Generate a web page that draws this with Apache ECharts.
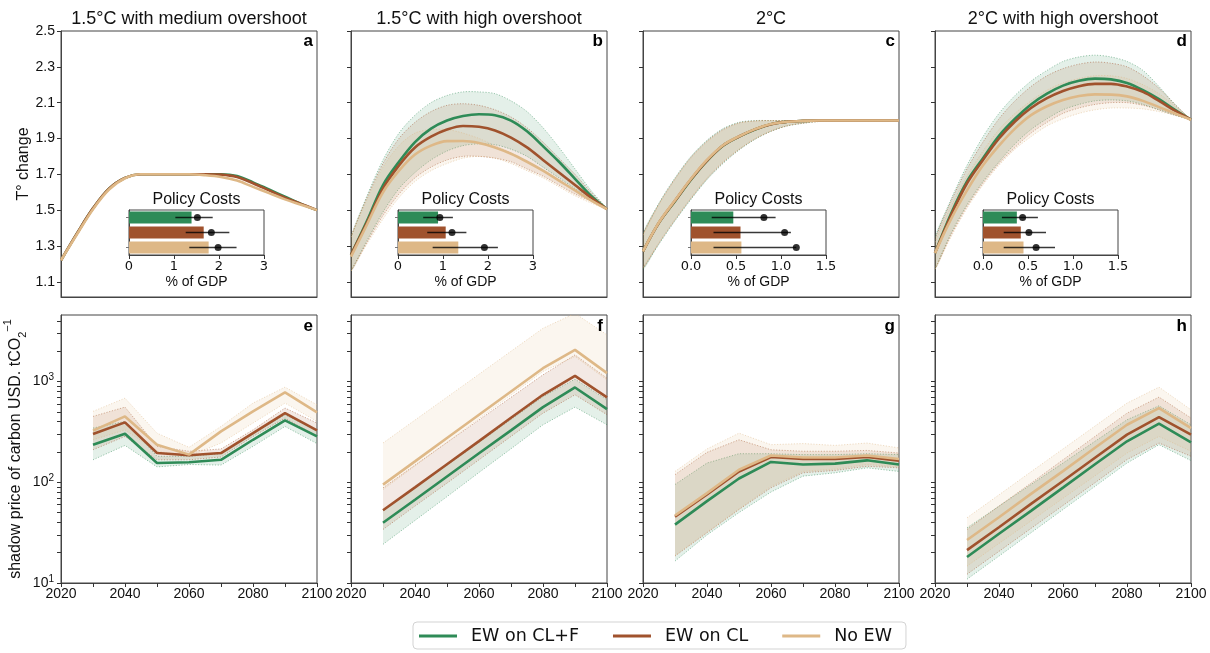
<!DOCTYPE html>
<html><head><meta charset="utf-8">
<script src="https://cdn.jsdelivr.net/npm/echarts@6/dist/echarts.min.js"></script>
<style>html,body{margin:0;padding:0;background:#fff}#c{width:1210px;height:653px}</style>
</head><body><div id="c"></div>
<script>
// ---------- DATA ----------
const YEARS_T = [2020,2025,2030,2035,2040,2045,2050,2055,2060,2065,2070,2075,2080,2085,2090,2095,2100];
const YEARS_B = [2030,2040,2050,2060,2070,2080,2090,2100];
const NAMES = ['EW on CL+F','EW on CL','No EW'];
const PANEL_TITLES = ['1.5°C with medium overshoot','1.5°C with high overshoot','2°C','2°C with high overshoot'];
const TOP_LETTERS = ['a','b','c','d'];
const BOT_LETTERS = ['e','f','g','h'];
const T_TICKS = [1.1,1.3,1.5,1.7,1.9,2.1,2.3,2.5];
const LOG_TICKS = [10,100,1000];
const LOG_MINOR = [20,30,40,50,60,70,80,90,200,300,400,500,600,700,800,900,2000,3000,4000];

// panel a (temperature)
const aG = [1.22,1.37,1.51,1.62,1.68,1.70,1.70,1.70,1.70,1.70,1.70,1.69,1.655,1.615,1.575,1.535,1.50];
const aB = [1.22,1.37,1.51,1.62,1.68,1.70,1.70,1.70,1.70,1.70,1.698,1.685,1.65,1.61,1.57,1.535,1.50];
const aT = [1.22,1.365,1.505,1.615,1.678,1.70,1.70,1.70,1.70,1.695,1.685,1.665,1.63,1.595,1.56,1.53,1.50];
// panel b
const bG = [1.25,1.44,1.64,1.77,1.88,1.955,2.0,2.025,2.035,2.03,2.0,1.94,1.857,1.77,1.675,1.58,1.505];
const bB = [1.25,1.43,1.62,1.75,1.85,1.91,1.95,1.97,1.965,1.945,1.905,1.85,1.78,1.71,1.64,1.57,1.505];
const bT = [1.24,1.42,1.60,1.72,1.81,1.86,1.885,1.886,1.875,1.85,1.815,1.77,1.72,1.665,1.61,1.555,1.505];
const bG_hi = [1.35,1.58,1.78,1.93,2.03,2.10,2.14,2.16,2.16,2.15,2.11,2.05,1.96,1.85,1.73,1.61,1.51];
const bG_lo = [1.16,1.33,1.49,1.62,1.71,1.78,1.83,1.86,1.87,1.865,1.84,1.80,1.74,1.68,1.62,1.56,1.505];
const bB_hi = [1.35,1.57,1.76,1.90,1.99,2.05,2.085,2.094,2.085,2.06,2.02,1.96,1.88,1.79,1.70,1.60,1.51];
const bB_lo = [1.16,1.32,1.47,1.59,1.68,1.74,1.78,1.80,1.80,1.79,1.77,1.73,1.69,1.64,1.59,1.55,1.505];
const bT_hi = [1.35,1.56,1.74,1.86,1.93,1.95,1.95,1.93,1.90,1.86,1.82,1.77,1.72,1.67,1.61,1.56,1.505];
const bT_lo = [1.16,1.31,1.45,1.57,1.66,1.72,1.76,1.79,1.80,1.79,1.76,1.72,1.68,1.63,1.58,1.54,1.505];
// panel c
const cG = [1.27,1.43,1.55,1.67,1.775,1.86,1.91,1.95,1.98,1.993,1.998,2.0,2.0,2.0,2.0,2.0,2.0];
const cB = [1.27,1.43,1.552,1.672,1.777,1.861,1.911,1.951,1.98,1.993,1.998,2.0,2.0,2.0,2.0,2.0,2.0];
const cT = [1.27,1.432,1.555,1.675,1.78,1.862,1.912,1.952,1.981,1.993,1.998,2.0,2.0,2.0,2.0,2.0,2.0];
const cG_hi = [1.37,1.54,1.68,1.80,1.89,1.955,1.99,2.0,2.0,2.0,2.0,2.0,2.0,2.0,2.0,2.0,2.0];
const cG_lo = [1.17,1.31,1.44,1.56,1.67,1.76,1.835,1.895,1.94,1.97,1.985,1.995,2.0,2.0,2.0,2.0,2.0];
const cB_hi = [1.365,1.535,1.675,1.795,1.885,1.95,1.987,1.998,2.0,2.0,2.0,2.0,2.0,2.0,2.0,2.0,2.0];
const cB_lo = [1.175,1.315,1.445,1.565,1.675,1.765,1.838,1.897,1.94,1.97,1.985,1.995,2.0,2.0,2.0,2.0,2.0];
const cT_hi = [1.36,1.53,1.67,1.79,1.88,1.945,1.985,1.997,2.0,2.0,2.0,2.0,2.0,2.0,2.0,2.0,2.0];
const cT_lo = [1.18,1.32,1.45,1.57,1.68,1.77,1.84,1.898,1.942,1.971,1.986,1.995,2.0,2.0,2.0,2.0,2.0];
// panel d
const dG = [1.26,1.48,1.66,1.79,1.915,2.01,2.09,2.15,2.195,2.222,2.234,2.23,2.21,2.17,2.12,2.06,2.005];
const dB = [1.26,1.47,1.65,1.78,1.90,1.995,2.07,2.125,2.165,2.192,2.205,2.205,2.19,2.16,2.11,2.055,2.005];
const dT = [1.26,1.45,1.61,1.75,1.86,1.955,2.03,2.08,2.115,2.137,2.146,2.145,2.135,2.11,2.075,2.04,2.005];
const dG_hi = [1.35,1.56,1.75,1.91,2.04,2.14,2.22,2.28,2.33,2.355,2.365,2.355,2.33,2.28,2.19,2.09,2.005];
const dG_lo = [1.17,1.37,1.53,1.66,1.77,1.87,1.95,2.01,2.06,2.09,2.11,2.115,2.11,2.09,2.06,2.03,2.005];
const dB_hi = [1.34,1.55,1.73,1.88,2.01,2.11,2.19,2.25,2.29,2.315,2.327,2.32,2.30,2.25,2.18,2.09,2.005];
const dB_lo = [1.17,1.36,1.52,1.65,1.76,1.85,1.93,1.99,2.04,2.07,2.09,2.10,2.10,2.085,2.06,2.03,2.005];
const dT_hi = [1.32,1.52,1.69,1.83,1.95,2.04,2.11,2.17,2.21,2.235,2.25,2.25,2.235,2.20,2.15,2.08,2.005];
const dT_lo = [1.17,1.35,1.51,1.64,1.75,1.84,1.91,1.97,2.01,2.04,2.06,2.07,2.07,2.065,2.05,2.03,2.005];

// panel e (carbon price)
const eG = [236,303,155,158,167,264,411,285];
const eB = [301,393,195,185,195,307,486,327];
const eT = [325,450,236,188,320,505,778,493];
const eG_hi = [345,402,181,181,192,307,468,327];
const eG_lo = [167,232,142,150,148,227,358,242];
const eB_hi = [450,557,227,203,214,331,545,387];
const eB_lo = [210,285,167,167,178,285,434,285];
const eT_hi = [505,683,307,222,358,610,879,587];
const eT_lo = [264,331,203,181,245,387,610,402];
// panel f
const fG = [39.6,67,114,194,327,557,872,532];
const fB = [52.8,89,151,256,437,738,1138,695];
const fT = [94.8,161,275,468,796,1355,2060,1210];
const fG_hi = [52,88,148,249,420,708,1055,658];
const fG_lo = [24.2,41.8,72,125,215,372,557,372];
const fB_hi = [88,148,248,415,696,1164,1837,1079];
const fB_lo = [34,58,98,167,285,485,738,468];
const fT_hi = [245,414,699,1180,1995,3373,4740,2898];
const fT_lo = [84.5,145,249,427,733,1258,1770,1038];
// panel g
const gG = [38,65,109,159,150,153,165,150];
const gB = [45.4,75.5,128,178,170,170,178,164];
const gT = [46.8,78,133,184,176,176,184,170];
const gG_hi = [95,155,192,192,188,188,192,188];
const gG_lo = [16.5,30,50,80,115,124,139,128];
const gB_hi = [119,198,264,210,203,203,207,195];
const gB_lo = [18.5,31.5,53.6,88,124,131,144,139];
const gT_hi = [128,214,307,236,242,232,245,219];
const gT_lo = [18.8,32,54.4,91,128,135,150,142];
// panel h
const hG = [18.1,30.8,52,88.5,151,255,381,249];
const hB = [21.2,35.8,61,103,175,297,444,297];
const hT = [26.7,45,76.6,129,220,372,545,345];
const hG_hi = [35.3,57.9,94.9,155,255,417,574,372];
const hG_lo = [10.9,18.5,31.5,53.6,91,155,236,164];
const hB_hi = [34,58,98,167,285,485,700,434];
const hB_lo = [12.2,20.6,34.8,58.8,99,168,245,181];
const hT_hi = [44.4,75,127,214,361,610,879,524];
const hT_lo = [14.7,24.7,41.3,69.3,116,195,285,203];

// policy costs insets (% of GDP): order green, brown, tan
const costA_bar = [1.39,1.66,1.77], costA_dot = [1.52,1.83,1.98], costA_lo = [1.03,1.26,1.34], costA_hi = [1.86,2.23,2.39];
const costB_bar = [0.89,1.06,1.34], costB_dot = [0.93,1.20,1.92], costB_lo = [0.56,0.65,0.77], costB_hi = [1.22,1.52,2.22];
const costC_bar = [0.47,0.55,0.56], costC_dot = [0.81,1.04,1.17], costC_lo = [0.23,0.25,0.25], costC_hi = [0.94,1.11,1.17];
const costD_bar = [0.376,0.42,0.45], costD_dot = [0.44,0.51,0.59], costD_lo = [0.21,0.23,0.23], costD_hi = [0.61,0.70,0.80];
const COST_MAX = [3,3,1.5,1.5];
const COST_STEP = [1,1,0.5,0.5];

// ---------- LAYOUT / STYLE ----------
const COLORS = ['#2e8b57','#a0522d','#deb887'];
const LEFTS = [61,351,643,935];
const W = 256;
const INSET_LEFTS = [129,398,691,983];
const ARIAL = '"Liberation Sans", Arial, sans-serif';
const DEJAVU = '"DejaVu Sans", sans-serif';
const FRAME = '#444';

function rgba(hex, a) {
  const n = parseInt(hex.slice(1), 16);
  return `rgba(${(n>>16)&255},${(n>>8)&255},${n&255},${a})`;
}

const topPanels = [
  {mean:[aG,aB,aT], hi:null, lo:null},
  {mean:[bG,bB,bT], hi:[bG_hi,bB_hi,bT_hi], lo:[bG_lo,bB_lo,bT_lo]},
  {mean:[cG,cB,cT], hi:[cG_hi,cB_hi,cT_hi], lo:[cG_lo,cB_lo,cT_lo]},
  {mean:[dG,dB,dT], hi:[dG_hi,dB_hi,dT_hi], lo:[dG_lo,dB_lo,dT_lo]}
];
const botPanels = [
  {mean:[eG,eB,eT], hi:[eG_hi,eB_hi,eT_hi], lo:[eG_lo,eB_lo,eT_lo]},
  {mean:[fG,fB,fT], hi:[fG_hi,fB_hi,fT_hi], lo:[fG_lo,fB_lo,fT_lo]},
  {mean:[gG,gB,gT], hi:[gG_hi,gB_hi,gT_hi], lo:[gG_lo,gB_lo,gT_lo]},
  {mean:[hG,hB,hT], hi:[hG_hi,hB_hi,hT_hi], lo:[hG_lo,hB_lo,hT_lo]}
];
const costs = [
  {bar:costA_bar, dot:costA_dot, lo:costA_lo, hi:costA_hi},
  {bar:costB_bar, dot:costB_dot, lo:costB_lo, hi:costB_hi},
  {bar:costC_bar, dot:costC_dot, lo:costC_lo, hi:costC_hi},
  {bar:costD_bar, dot:costD_dot, lo:costD_lo, hi:costD_hi}
];

const grid = [], xAxis = [], yAxis = [], series = [], graphic = [];

function bandRenderer(years, lo, hi, color, smooth) {
  return (params, api) => {
    if (params.dataIndex !== 0) return null;
    const up = years.map((y,i)=>api.coord([y, hi[i]]));
    const dn = years.map((y,i)=>api.coord([y, lo[i]]));
    const poly = up.concat(dn.slice().reverse());
    const edge = {stroke: rgba(color, 0.6), lineWidth: 0.8, lineDash: [1.2, 1.6], fill: null};
    return {type:'group', children:[
      {type:'polygon', shape:{points:poly, smooth:smooth}, style:{fill: rgba(color, 0.13), stroke:null}},
      {type:'polyline', shape:{points:up, smooth:smooth}, style:edge},
      {type:'polyline', shape:{points:dn, smooth:smooth}, style:edge}
    ]};
  };
}

function addPanelSeries(idx, years, p, smooth) {
  if (p.hi) {
    for (let k = 0; k < 3; k++) {
      series.push({type:'custom', xAxisIndex:idx, yAxisIndex:idx, silent:true, clip:true, z:1,
        encode:{x:0, y:[1,2]},
        data: years.map((y,i)=>[y, p.lo[k][i], p.hi[k][i]]),
        renderItem: bandRenderer(years, p.lo[k], p.hi[k], COLORS[k], smooth)});
    }
  }
  for (let k = 0; k < 3; k++) {
    series.push({type:'line', name:NAMES[k], xAxisIndex:idx, yAxisIndex:idx, symbol:'none',
      smooth: smooth ? 0.35 : false, silent:true,
      z:3+k, lineStyle:{width:2.6, color:COLORS[k]}, itemStyle:{color:COLORS[k]},
      data: years.map((y,i)=>[y, p.mean[k][i]])});
  }
}

// top panels
for (let i = 0; i < 4; i++) {
  grid.push({left:LEFTS[i], top:31, width:W, height:266, show:true, borderColor:FRAME, borderWidth:1, backgroundColor:'transparent'});
  xAxis.push({type:'value', gridIndex:i, min:2020, max:2100, interval:10,
    axisLine:{show:true, lineStyle:{color:FRAME}}, axisTick:{show:false}, axisLabel:{show:false}, splitLine:{show:false}});
  const ya = {type:'value', gridIndex:i, min:1.015, max:2.5,
    axisLine:{show:true, lineStyle:{color:FRAME}},
    axisTick:{show:true, length:4, customValues:T_TICKS, lineStyle:{color:'#333'}},
    axisLabel:{show:i===0, customValues:T_TICKS, margin:6, fontSize:14, fontFamily:ARIAL, color:'#111',
      formatter:v=>v.toFixed(1)},
    splitLine:{show:false}};
  if (i === 0) {
    ya.name = 'T° change'; ya.nameLocation = 'middle'; ya.nameRotate = 90; ya.nameGap = 29;
    ya.nameTextStyle = {fontSize:16, fontFamily:ARIAL, color:'#111'};
  }
  yAxis.push(ya);
  addPanelSeries(i, YEARS_T, topPanels[i], 0.3);
}
// bottom panels
for (let i = 0; i < 4; i++) {
  const gi = 4 + i;
  grid.push({left:LEFTS[i], top:315, width:W, height:268, show:true, borderColor:FRAME, borderWidth:1, backgroundColor:'transparent'});
  xAxis.push({type:'value', gridIndex:gi, min:2020, max:2100, interval:10,
    axisLine:{show:true, lineStyle:{color:FRAME}},
    axisTick:{show:true, length:4, lineStyle:{color:'#333'}},
    axisLabel:{show:true, margin:4, fontSize:14, fontFamily:ARIAL, color:'#111',
      formatter:v=> (v % 20 === 0 ? String(v) : '')},
    splitLine:{show:false}});
  const ya = {type:'log', logBase:10, gridIndex:gi, min:10, max:4570,
    axisLine:{show:true, lineStyle:{color:FRAME}},
    axisTick:{show:true, length:4, customValues:LOG_TICKS.concat(LOG_MINOR), lineStyle:{color:'#333'}},
    axisLabel:{show:i===0, customValues:LOG_TICKS, margin:7, fontSize:14, fontFamily:ARIAL, color:'#111',
      formatter:v=> '10{s|' + Math.round(Math.log10(v)) + '}',
      rich:{s:{fontSize:10, fontFamily:ARIAL, color:'#111', verticalAlign:'top', lineHeight:18}}},
    splitLine:{show:false}, minorTick:{show:false}};
  if (i === 0) {
    ya.name = 'shadow price of carbon USD. tCO{sub|2}{sup|−1}';
    ya.nameLocation = 'middle'; ya.nameRotate = 90; ya.nameGap = 24;
    ya.nameTextStyle = {fontSize:16, fontFamily:ARIAL, color:'#111', lineHeight:26,
      rich:{sub:{fontSize:11, fontFamily:ARIAL, color:'#111', verticalAlign:'bottom', lineHeight:20},
            sup:{fontSize:11, fontFamily:ARIAL, color:'#111', verticalAlign:'top', lineHeight:26}}};
  }
  yAxis.push(ya);
  addPanelSeries(gi, YEARS_B, botPanels[i], 0);
}
// insets
for (let i = 0; i < 4; i++) {
  const gi = 8 + i;
  const c = costs[i];
  grid.push({left:INSET_LEFTS[i], top:210, width:135, height:45, show:true, borderColor:FRAME, borderWidth:1, backgroundColor:'#fff', z:5});
  xAxis.push({type:'value', gridIndex:gi, min:0, max:COST_MAX[i], interval:COST_STEP[i], z:6,
    axisLine:{show:true, lineStyle:{color:FRAME}},
    axisTick:{show:true, length:4, lineStyle:{color:'#333'}},
    axisLabel:{show:true, margin:5, fontSize:13, fontFamily:DEJAVU, color:'#111',
      formatter:v=> COST_STEP[i] < 1 ? v.toFixed(1) : String(v)},
    splitLine:{show:false},
    name:'% of GDP', nameLocation:'middle', nameGap:20, nameTextStyle:{fontSize:14, fontFamily:ARIAL, color:'#111'}});
  yAxis.push({type:'category', gridIndex:gi, data:NAMES, inverse:true, z:6,
    axisLine:{show:true, lineStyle:{color:FRAME}},
    axisTick:{show:true, length:3, alignWithLabel:true, lineStyle:{color:'#777'}},
    axisLabel:{show:false}, splitLine:{show:false}});
  series.push({type:'bar', xAxisIndex:gi, yAxisIndex:gi, barWidth:12, silent:true, z:6,
    data: c.bar.map((v,k)=>({value:v, itemStyle:{color:COLORS[k]}}))});
  series.push({type:'custom', xAxisIndex:gi, yAxisIndex:gi, silent:true, z:7,
    encode:{x:[1,2], y:0},
    data: c.lo.map((v,k)=>[k, v, c.hi[k]]),
    renderItem:(params, api)=>{
      const p1 = api.coord([api.value(1), api.value(0)]);
      const p2 = api.coord([api.value(2), api.value(0)]);
      return {type:'line', shape:{x1:p1[0], y1:p1[1], x2:p2[0], y2:p2[1]},
        style:{stroke:'rgba(0,0,0,0.78)', lineWidth:1.5}};
    }});
  series.push({type:'scatter', xAxisIndex:gi, yAxisIndex:gi, silent:true, z:8, symbolSize:7,
    itemStyle:{color:'#000'}, data: c.dot.map((v,k)=>[v, k])});
  graphic.push({type:'text', x:INSET_LEFTS[i]+67.5, y:200, z:10,
    style:{text:'Policy Costs', align:'center', verticalAlign:'middle', textAlign:'center', textVerticalAlign:'middle',
      fontSize:16, fontFamily:ARIAL, fill:'#111'}});
}
// titles and letters
for (let i = 0; i < 4; i++) {
  graphic.push({type:'text', x:LEFTS[i]+W/2, y:19.5, z:10,
    style:{text:PANEL_TITLES[i], align:'center', verticalAlign:'middle', textAlign:'center', textVerticalAlign:'middle',
      fontSize:18, fontFamily:ARIAL, fill:'#111'}});
  graphic.push({type:'text', x:LEFTS[i]+252, y:41, z:10,
    style:{text:TOP_LETTERS[i], align:'right', verticalAlign:'middle', textAlign:'right', textVerticalAlign:'middle',
      fontSize:17, fontWeight:'bold', fontFamily:ARIAL, fill:'#000'}});
  graphic.push({type:'text', x:LEFTS[i]+252, y:326, z:10,
    style:{text:BOT_LETTERS[i], align:'right', verticalAlign:'middle', textAlign:'right', textVerticalAlign:'middle',
      fontSize:17, fontWeight:'bold', fontFamily:ARIAL, fill:'#000'}});
}

const chart = echarts.init(document.getElementById('c'), null, {renderer:'canvas'});
chart.setOption({
  animation:false,
  backgroundColor:'#fff',
  grid, xAxis, yAxis, series, graphic,
  legend:{show:true, left:413, top:622, orient:'horizontal',
    data: NAMES.map((n,k)=>({name:n, icon:'rect', itemStyle:{color:COLORS[k]}})),
    itemWidth:38, itemHeight:3, itemGap:34,
    padding:[5,14,4,6], borderColor:'#d3d3d3', borderWidth:1, borderRadius:4,
    textStyle:{fontSize:17.5, fontFamily:DEJAVU, color:'#111', padding:[0,0,0,9]},
    selectedMode:false}
});
</script>
</body></html>
